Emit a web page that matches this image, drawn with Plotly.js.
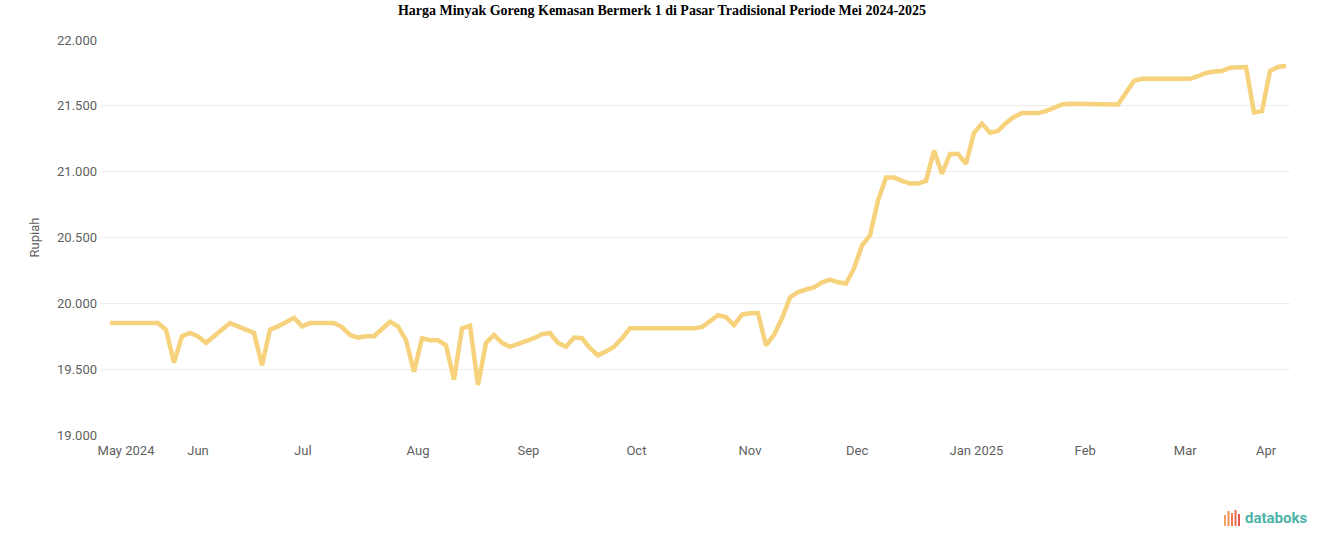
<!DOCTYPE html>
<html>
<head>
<meta charset="utf-8">
<script src="https://cdn.plot.ly/plotly-3.0.1.min.js"></script>
<style>html,body{margin:0;padding:0;background:#fff;}#chart{width:1324px;height:547px;}</style>
</head>
<body>
<div id="chart"></div>
<script>
// Price series (Rupiah), one observation per step, May 2024 – Apr 2025
const prices = [
  19850,19850,19850,19850,19850,19850,19850,19800,19550,19750,
  19775,19750,19700,19750,19800,19850,19825,19800,19775,19530,
  19800,19825,19860,19890,19825,19850,19850,19850,19850,19820,
  19760,19740,19750,19750,19800,19860,19825,19720,19480,19735,
  19720,19720,19680,19420,19810,19830,19380,19700,19760,19700,
  19670,19690,19710,19735,19765,19775,19700,19670,19740,19735,
  19660,19605,19635,19670,19735,19810,19810,19810,19810,19810,
  19810,19810,19810,19810,19820,19870,19910,19895,19835,19915,
  19925,19925,19680,19760,19885,20045,20085,20105,20120,20160,
  20180,20160,20150,20265,20440,20515,20780,20955,20955,20930,
  20910,20910,20930,21160,20985,21135,21135,21060,21295,21365,
  21295,21310,21370,21415,21445,21445,21445,21460,21485,21510,
  21515,21515,21515,21515,21515,21510,21510,21600,21690,21705,
  21705,21705,21705,21705,21705,21705,21725,21750,21760,21765,
  21790,21795,21795,21450,21460,21765,21795,21805
];
// Month tick labels and the observation index where each label sits
const monthLabels = ["May 2024","Jun","Jul","Aug","Sep","Oct","Nov","Dec","Jan 2025","Feb","Mar","Apr"];
const monthIndex  = [2, 11, 24.1, 38.5, 52.3, 65.8, 80, 93.4, 108.3, 121.9, 134.4, 144.5];
const yTicks = [19000,19500,20000,20500,21000,21500,22000];

const trace = {
  y: prices,
  x0: 0, dx: 1,
  type: 'scatter',
  mode: 'lines',
  line: {color: '#F6D27C', width: 4.5},
  hoverinfo: 'y'
};

const W = 1324, H = 547, L = 100, R = 34, T = 40, B = 112;
const px = x => (x - L) / (W - L - R);
const py = y => (H - B - y) / (H - T - B);

const logoBars = [
  {x: 1224, top: 515, color: '#F3A15E'},
  {x: 1227.5, top: 511, color: '#F0905A'},
  {x: 1231, top: 513, color: '#EC7B54'},
  {x: 1234.5, top: 510, color: '#E9694F'},
  {x: 1238, top: 514, color: '#E5584B'}
];
const shapes = logoBars.map(b => ({
  type: 'rect', xref: 'paper', yref: 'paper',
  x0: px(b.x), x1: px(b.x + 2), y0: py(526), y1: py(b.top),
  fillcolor: b.color, line: {width: 0}
}));

const axisFont = {family: 'Roboto, Arial, sans-serif', size: 13, color: '#5f5f5f'};

const layout = {
  width: W, height: H,
  margin: {l: L, r: R, t: T, b: B},
  paper_bgcolor: '#fff', plot_bgcolor: '#fff',
  separators: ',.',
  showlegend: false,
  title: {
    text: '<b>Harga Minyak Goreng Kemasan Bermerk 1 di Pasar Tradisional Periode Mei 2024-2025</b>',
    font: {family: 'Liberation Serif, Times New Roman, serif', size: 14, color: '#000'},
    x: 0.5, xanchor: 'center', xref: 'container',
    y: 1 - 10/547, yanchor: 'middle', yref: 'container'
  },
  xaxis: {
    range: [-1.25, 147.5],
    tickmode: 'array', tickvals: monthIndex, ticktext: monthLabels,
    showgrid: false, zeroline: false, showline: false, ticks: '',
    ticklabelstandoff: 6,
    tickfont: axisFont,
    fixedrange: true
  },
  yaxis: {
    range: [19000, 22000],
    tickmode: 'array', tickvals: yTicks,
    tickformat: ',.0f',
    showgrid: true, gridcolor: '#ededed', gridwidth: 1,
    zeroline: false, showline: false, ticks: '',
    ticklabelstandoff: 2,
    tickfont: axisFont,
    title: {text: 'Rupiah', font: axisFont, standoff: 14},
    fixedrange: true
  },
  shapes: shapes,
  annotations: [{
    xref: 'paper', yref: 'paper',
    x: px(1243), y: py(518), xanchor: 'left', yanchor: 'middle',
    text: '<b>databoks</b>', showarrow: false,
    font: {family: 'Roboto, Arial, sans-serif', size: 15, color: '#4DB3A8'}
  }]
};

Plotly.newPlot('chart', [trace], layout, {displayModeBar: false, staticPlot: true});
</script>
</body>
</html>
